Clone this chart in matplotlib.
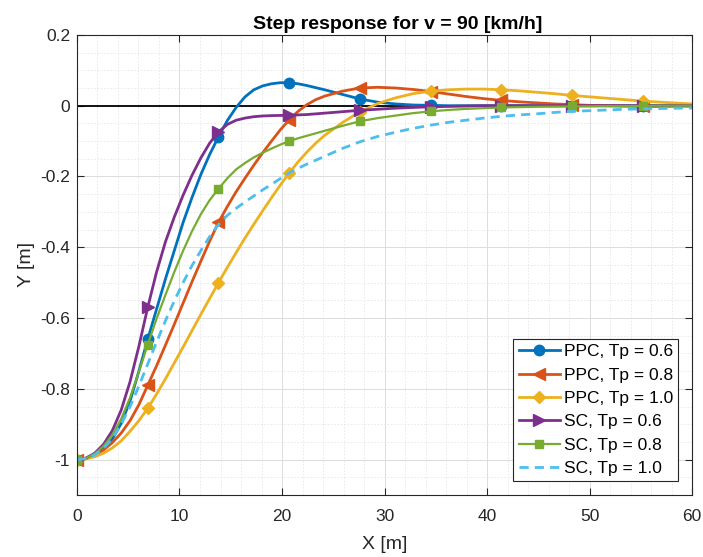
import matplotlib
matplotlib.use("Agg")
import matplotlib.pyplot as plt
import numpy as np
from matplotlib.ticker import MultipleLocator, FuncFormatter

plt.rcParams['font.family'] = ['Liberation Sans', 'DejaVu Sans']

# sample grid along the road [m]: fine where the curves bend, coarse in the tail
x_m = np.concatenate([np.arange(29) * 0.8625, 25.875 + np.arange(20) * 1.725, [60.0]])
marker_x = np.arange(9) * 6.9
marker_idx = [int(np.argmin(np.abs(x_m - m))) for m in marker_x]

ppc_06 = [-1.0, -0.996, -0.985, -0.97, -0.942, -0.898, -0.835, -0.75, -0.66, -0.575,
          -0.49, -0.41, -0.33, -0.26, -0.195, -0.138, -0.088, -0.042, -0.005, 0.025,
          0.045, 0.056, 0.062, 0.065, 0.065, 0.062, 0.057, 0.051, 0.045,
          0.032, 0.019, 0.010, 0.005, 0.002, 0.001, 0.0, 0.0, 0.0, 0.0,
          0.0, 0.0, 0.0, 0.0, 0.0, 0.0, 0.0, 0.0, 0.0, 0.0, 0.0]
ppc_08 = [-1.0, -0.997, -0.988, -0.973, -0.952, -0.925, -0.89, -0.845, -0.79, -0.735,
          -0.677, -0.618, -0.558, -0.498, -0.44, -0.383, -0.33, -0.285, -0.243, -0.205,
          -0.168, -0.133, -0.1, -0.068, -0.04, -0.016, 0.003, 0.017, 0.027,
          0.041, 0.05, 0.052, 0.05, 0.046, 0.04, 0.033, 0.026, 0.02, 0.015,
          0.011, 0.008, 0.005, 0.003, 0.001, 0.0, -0.001, -0.002, -0.002, -0.001, -0.001]
ppc_10 = [-1.0, -0.998, -0.992, -0.982, -0.967, -0.947, -0.92, -0.89, -0.855, -0.815,
          -0.772, -0.727, -0.682, -0.636, -0.59, -0.545, -0.50, -0.457, -0.415, -0.374,
          -0.335, -0.297, -0.26, -0.224, -0.19, -0.159, -0.131, -0.106, -0.084,
          -0.048, -0.017, 0.006, 0.022, 0.034, 0.041, 0.045, 0.047, 0.047, 0.045,
          0.042, 0.038, 0.034, 0.029, 0.025, 0.021, 0.017, 0.013, 0.010, 0.007, 0.005]
sc_06 = [-1.0, -0.996, -0.982, -0.957, -0.918, -0.86, -0.78, -0.68, -0.57, -0.47,
         -0.385, -0.315, -0.253, -0.197, -0.148, -0.106, -0.074, -0.053, -0.041, -0.035,
         -0.031, -0.029, -0.028, -0.0275, -0.027, -0.026, -0.025, -0.023, -0.021,
         -0.017, -0.013, -0.010, -0.007, -0.005, -0.003, -0.002, -0.001, 0.0, 0.0,
         0.0, 0.0, 0.0, 0.0, 0.0, 0.0, 0.0, 0.0, 0.0, 0.0, 0.0]
sc_08 = [-1.0, -0.996, -0.984, -0.962, -0.93, -0.885, -0.825, -0.752, -0.675, -0.602,
         -0.535, -0.47, -0.41, -0.355, -0.307, -0.267, -0.235, -0.205, -0.18, -0.162,
         -0.146, -0.133, -0.121, -0.11, -0.10, -0.092, -0.085, -0.078, -0.071,
         -0.057, -0.044, -0.035, -0.028, -0.021, -0.016, -0.012, -0.009, -0.007, -0.005,
         -0.004, -0.003, -0.0025, -0.002, -0.0015, -0.001, -0.001, -0.0005, 0.0, 0.0, 0.0]
sc_10 = [-1.0, -0.997, -0.987, -0.968, -0.94, -0.90, -0.85, -0.792, -0.73, -0.668,
         -0.608, -0.552, -0.50, -0.452, -0.41, -0.37, -0.336, -0.31, -0.29, -0.272,
         -0.255, -0.238, -0.222, -0.206, -0.19, -0.177, -0.165, -0.154, -0.143,
         -0.121, -0.102, -0.087, -0.075, -0.064, -0.055, -0.047, -0.041, -0.035, -0.03,
         -0.026, -0.023, -0.019, -0.016, -0.014, -0.012, -0.010, -0.009, -0.008, -0.007, -0.0065]

labels = ['PPC, Tp = 0.6', 'PPC, Tp = 0.8', 'PPC, Tp = 1.0',
          'SC, Tp = 0.6', 'SC, Tp = 0.8', 'SC, Tp = 1.0']

fig = plt.figure(figsize=(7.03, 5.57), dpi=100)
ax = fig.add_axes([0.1095, 0.1113, 0.875, 0.826])

mk = marker_idx
ax.plot(x_m, ppc_06, color='#0072BD', lw=2, marker='o', ms=7.5, markevery=mk, label=labels[0])
ax.plot(x_m, ppc_08, color='#D95319', lw=2, marker='<', ms=9, markevery=mk, label=labels[1])
ax.plot(x_m, ppc_10, color='#EDB120', lw=2, marker='D', ms=6.5, markevery=mk, label=labels[2])
ax.plot(x_m, sc_06, color='#7E2F8E', lw=2, marker='>', ms=9, markevery=mk, label=labels[3])
ax.plot(x_m, sc_08, color='#77AC30', lw=1.6, marker='s', ms=6, markevery=mk, label=labels[4])
ax.plot(x_m, sc_10, color='#4DBEEE', lw=2, ls=(0, (3.3, 2.2)), label=labels[5])
ax.plot([0, 60], [0, 0], color='black', lw=1.3, zorder=1.5)

ax.set_xlim(0, 60)
ax.set_ylim(-1.1, 0.2)
ax.xaxis.set_major_locator(MultipleLocator(10))
ax.yaxis.set_major_locator(MultipleLocator(0.2))
ax.xaxis.set_minor_locator(MultipleLocator(2))
ax.yaxis.set_minor_locator(MultipleLocator(0.05))
ax.yaxis.set_major_formatter(FuncFormatter(lambda v, p: ('%g' % round(v, 2)).replace('\u2212', '-')))
ax.tick_params(which='major', direction='in', length=5, labelsize=12.5, colors='#262626',
               top=True, right=True, pad=5)
ax.tick_params(axis='x', which='major', pad=10)
ax.tick_params(which='minor', length=0)
ax.grid(which='major', color='#dcdcdc', lw=0.7)
ax.grid(which='minor', color='#e6e6e6', lw=0.6, ls=(0, (2, 2)))
ax.set_axisbelow(True)
for s in ax.spines.values():
    s.set_color('#262626')
    s.set_linewidth(0.8)

ax.set_xlabel('X [m]', fontsize=14, color='#262626', labelpad=9)
ax.set_ylabel('Y [m]', fontsize=14, color='#262626', labelpad=4)
ax.set_title('Step response for v = 90 [km/h]', fontsize=14, fontweight='bold', pad=4, x=0.522)

leg = ax.legend(loc='lower right', fontsize=12.5, framealpha=1, fancybox=False,
                edgecolor='#262626', labelspacing=0.47, handlelength=2.4,
                handletextpad=0.2, borderpad=0.3, borderaxespad=0.8)
leg.get_frame().set_linewidth(0.8)

fig.savefig('out.png', dpi=100)
